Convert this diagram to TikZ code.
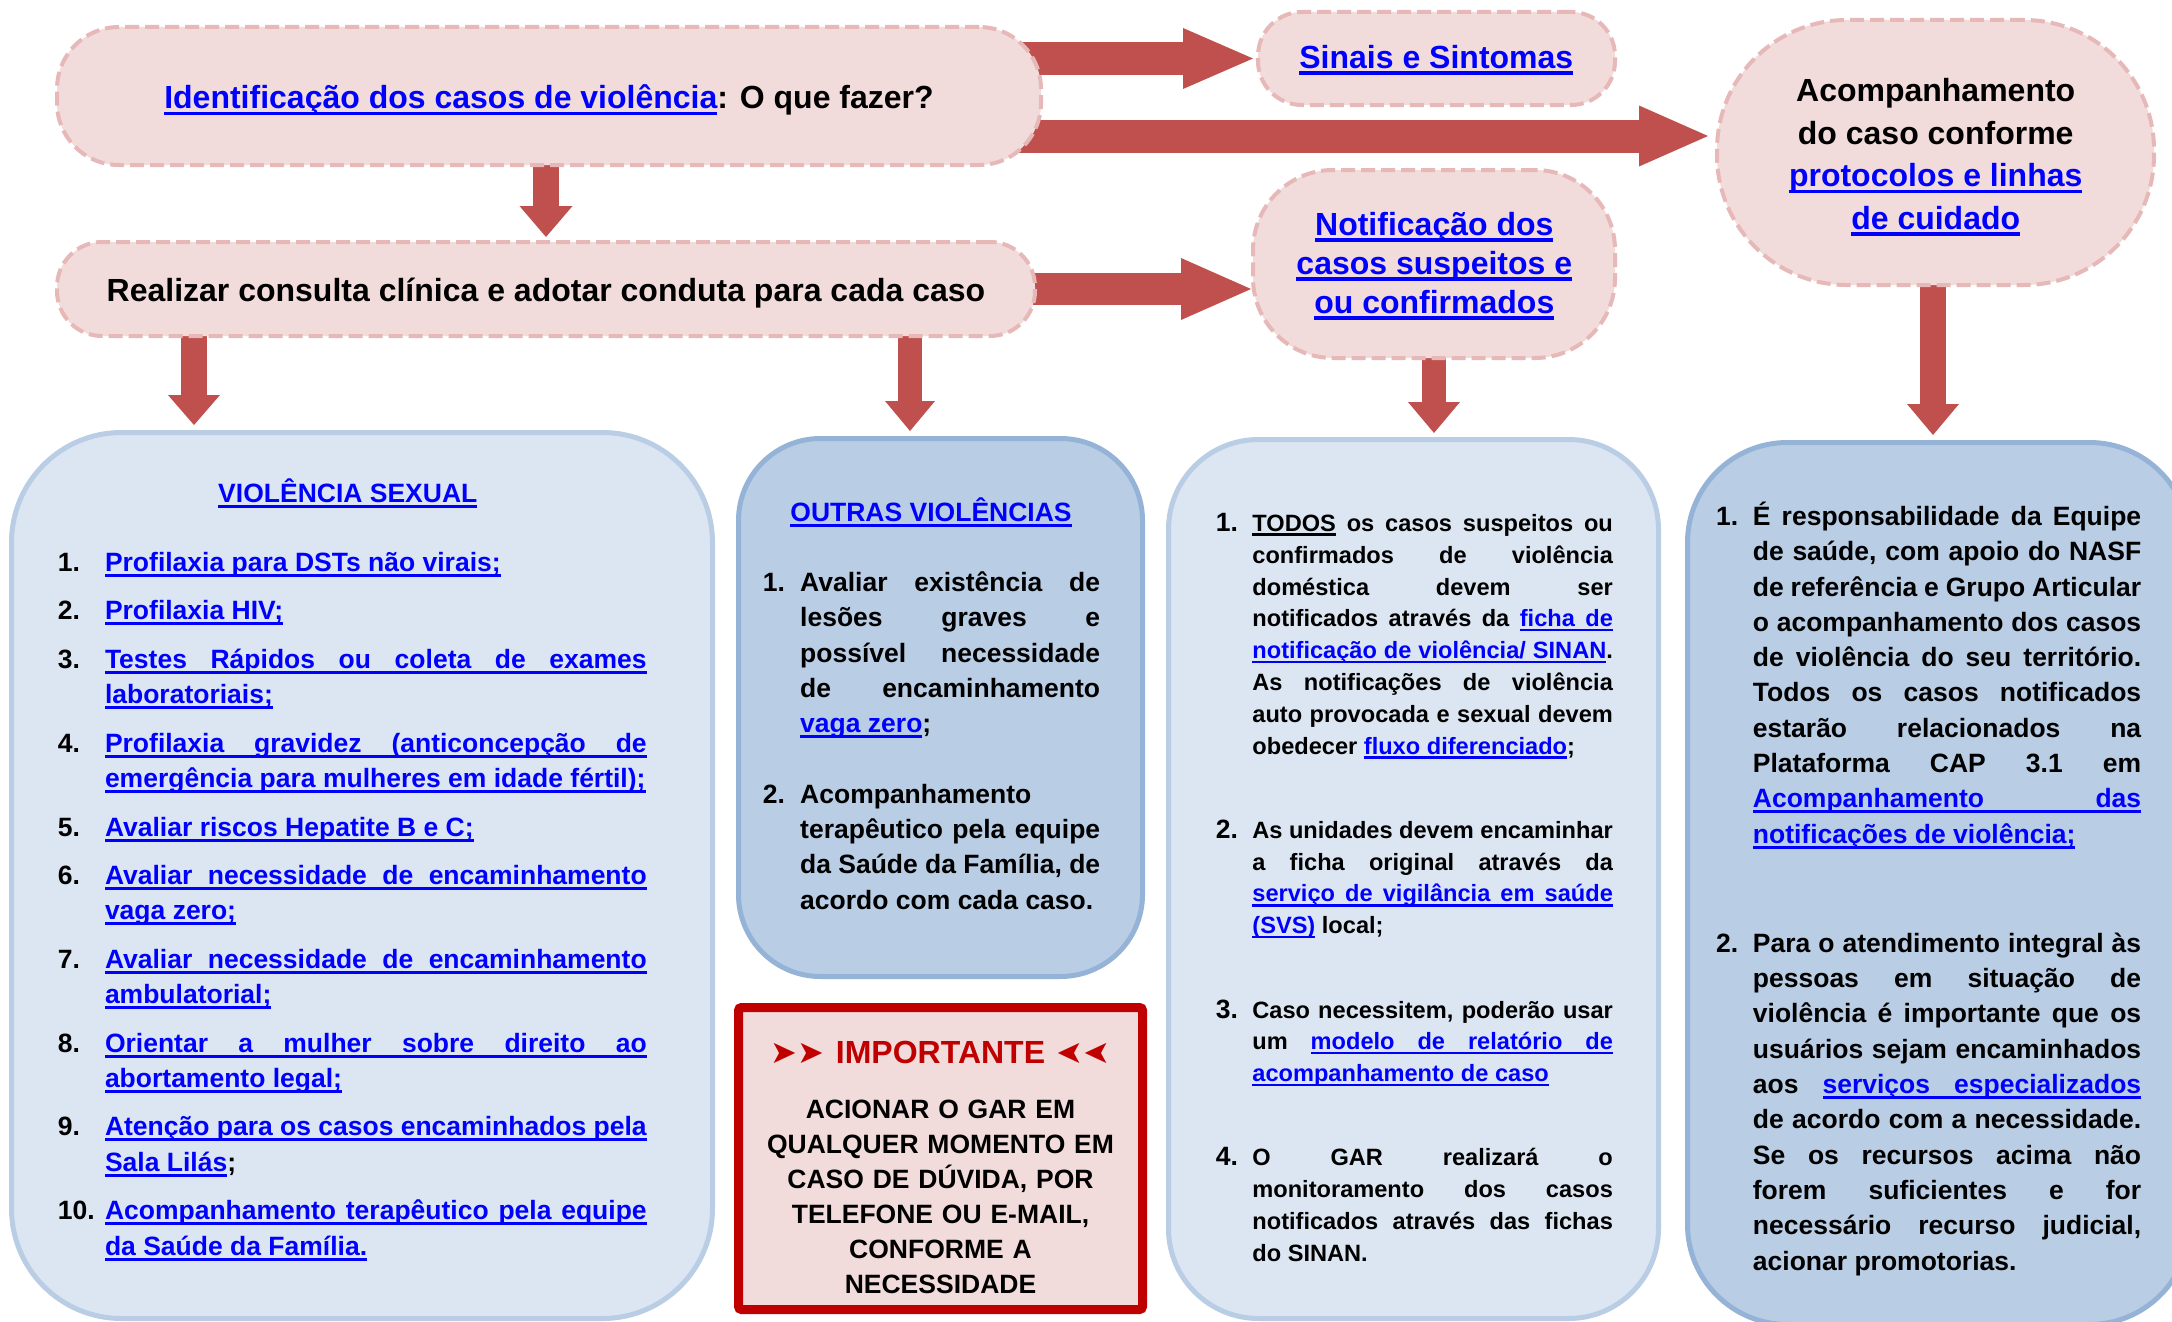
\documentclass[tikz,border=0pt]{standalone}
\usepackage{fontspec}
\setmainfont{Liberation Sans}
\newfontfamily\symfont{DejaVu Sans}
\usepackage{graphicx}
\usetikzlibrary{arrows.meta,calc}
\definecolor{pinkfill}{HTML}{F2DCDB}
\definecolor{pinkedge}{HTML}{E6B9B8}
\definecolor{arrowred}{HTML}{C0504D}
\definecolor{lightfill}{HTML}{DCE6F2}
\definecolor{lightedge}{HTML}{B9CDE5}
\definecolor{darkfill}{HTML}{B9CDE5}
\definecolor{darkedge}{HTML}{95B3D7}
\definecolor{impred}{HTML}{C00000}
\definecolor{linkblue}{HTML}{0000FF}
\pgfdeclarelayer{background}
\pgfsetlayers{background,main}
\newdimen\uldp \newdimen\ulth
\uldp=2.5pt \ulth=3pt
\newsavebox{\ulwordbox}
\def\ulbox#1{\leavevmode\sbox{\ulwordbox}{#1}\rlap{\vrule height -\uldp depth \dimexpr\uldp+\ulth\relax width \wd\ulwordbox}\usebox{\ulwordbox}}
\def\ulspace{\leaders\hrule height -\uldp depth \dimexpr\uldp+\ulth\relax\hskip\fontdimen2\font plus\fontdimen3\font minus\fontdimen4\font\relax}
\def\ulA#1 #2\ulend{\ulbox{#1}\ifx\relax#2\relax\else\ulspace\ulA#2\ulend\fi}
\newcommand{\ulin}[1]{\ulA#1 \ulend}
\newcommand{\lnk}[1]{{\color{linkblue}\ulin{#1}}}
\newcommand{\ulset}[2]{\uldp=#1\relax\ulth=#2\relax}
\newcommand{\itm}[3]{\hangindent=#1\hangafter=1\noindent\makebox[#1][l]{\rule{0pt}{26.5pt}#2}#3\par}
\newcommand{\parsetup}{\tolerance=10000 \hbadness=10000 \lineskiplimit=-100pt \parindent=0pt \parskip=0pt \emergencystretch=0pt\relax}
\newcommand{\bignum}[1]{{\fontsize{26.5}{31.8}\selectfont #1}}
\begin{document}
\begin{tikzpicture}[x=1pt,y=-1pt,
  pinkbox/.style={draw=pinkedge, fill=pinkfill, line width=4pt, dash pattern=on 14pt off 6pt, inner sep=0pt},
  lightbox/.style={draw=lightedge, fill=lightfill, line width=5pt, inner sep=0pt},
  darkbox/.style={draw=darkedge, fill=darkfill, line width=5pt, inner sep=0pt},
  impbox/.style={draw=impred, fill=pinkfill, line width=9pt, rounded corners=3pt, inner sep=0pt},
  toptext/.style={inner sep=0pt, font=\bfseries\fontsize{32}{39}\selectfont\ulset{3pt}{3.5pt}},
  listtext/.style={anchor=north west, inner sep=0pt, align=justify, font=\bfseries\fontsize{26.5}{35.3}\selectfont\ulset{2.5pt}{3pt}\parsetup},
  smalllist/.style={anchor=north west, inner sep=0pt, align=justify, font=\bfseries\fontsize{23.6}{31.8}\selectfont\ulset{2pt}{2.6pt}\parsetup},
  blk/.style={draw=arrowred, line width=#1}
]
\path[use as bounding box] (0,0) rectangle (2172,1322);
\begin{pgfonlayer}{background}
\fill[white] (0,0) rectangle (2172,1322);
\end{pgfonlayer}
\clip (0,0) rectangle (2172,1322);

% pink boxes
\node[pinkbox, rounded corners=62pt, minimum width=984pt, minimum height=138pt] (A) at (549,96) {};
\node[pinkbox, rounded corners=45pt, minimum width=978pt, minimum height=94pt] (B) at (546,289) {};
\node[pinkbox, rounded corners=44pt, minimum width=357pt, minimum height=93pt] (S) at (1436.5,58.5) {};
\node[pinkbox, rounded corners=80pt, minimum width=362pt, minimum height=188pt] (N) at (1434,264) {};
\node[pinkbox, rounded corners=130pt, minimum width=437pt, minimum height=265pt] (Ac) at (1935.5,152.5) {};

% blue boxes
\node[lightbox, rounded corners=110pt, minimum width=701pt, minimum height=886pt] (box1) at (362,875.5) {};
\node[darkbox, rounded corners=82pt, minimum width=404pt, minimum height=538pt] (box2) at (940.5,707.5) {};
\node[lightbox, rounded corners=90pt, minimum width=490pt, minimum height=879pt] (box3) at (1413.5,879) {};
\node[darkbox, rounded corners=100pt, minimum width=502pt, minimum height=882pt] (box4) at (1938.5,883.5) {};
\node[impbox, minimum width=404pt, minimum height=302pt] (imp) at (940.5,1158.5) {};

% top texts
\node[toptext, anchor=base] (tA) at (549,109) {\lnk{Identificação dos casos de violência}: O que fazer?};
\node[toptext, anchor=base] (tB) at (546,301.7) {Realizar consulta clínica e adotar conduta para cada caso};
\node[toptext, anchor=base] (tS) at (1436.3,68.3) {\lnk{Sinais e Sintomas}};
\node[toptext, anchor=north, align=center] (tN) at (1434.3,203) {\rule{0pt}{32pt}\lnk{Notificação dos}\\\lnk{casos suspeitos e}\\\lnk{ou confirmados}};
\node[toptext, anchor=north, align=center, font=\bfseries\fontsize{32}{42.5}\selectfont\ulset{3pt}{3.5pt}] (tAc) at (1935.7,69.7) {\rule{0pt}{32pt}Acompanhamento\\do caso conforme\\\lnk{protocolos e linhas}\\\lnk{de cuidado}};

% box 1
\node[toptext, anchor=base, font=\bfseries\fontsize{26.5}{35.3}\selectfont\ulset{2.5pt}{3pt}] (t1) at (347.8,502.2) {\lnk{VIOLÊNCIA SEXUAL}};
\node[listtext, text width=588.9pt] (L1) at (57.6,544.7) {%
\itm{47.2pt}{1.}{\lnk{Profilaxia para DSTs não virais;}}\vspace{13.2pt}
\itm{47.2pt}{2.}{\lnk{Profilaxia HIV;}}\vspace{13.2pt}
\itm{47.2pt}{3.}{\lnk{Testes Rápidos ou coleta de exames}\linebreak\lnk{laboratoriais;}}\vspace{13.2pt}
\itm{47.2pt}{4.}{\lnk{Profilaxia gravidez (anticoncepção de}\linebreak\lnk{emergência para mulheres em idade fértil);}}\vspace{13.2pt}
\itm{47.2pt}{5.}{\lnk{Avaliar riscos Hepatite B e C;}}\vspace{13.2pt}
\itm{47.2pt}{6.}{\lnk{Avaliar necessidade de encaminhamento}\linebreak\lnk{vaga zero;}}\vspace{13.2pt}
\itm{47.2pt}{7.}{\lnk{Avaliar necessidade de encaminhamento}\linebreak\lnk{ambulatorial;}}\vspace{13.2pt}
\itm{47.2pt}{8.}{\lnk{Orientar a mulher sobre direito ao}\linebreak\lnk{abortamento legal;}}\vspace{13.2pt}
\itm{47.2pt}{9.}{\lnk{Atenção para os casos encaminhados pela}\linebreak\lnk{Sala Lilás};}\vspace{13.2pt}
\itm{47.2pt}{10.}{\lnk{Acompanhamento terapêutico pela equipe}\linebreak\lnk{da Saúde da Família.}}};

% box 2
\node[toptext, anchor=base, font=\bfseries\fontsize{26.5}{35.3}\selectfont\ulset{2.5pt}{3pt}] (t2) at (931,521) {\lnk{OUTRAS VIOLÊNCIAS}};
\node[listtext, text width=337.3pt] (L2) at (762.7,564.7) {%
\itm{37.3pt}{1.}{Avaliar existência de\linebreak lesões graves e\linebreak possível necessidade\linebreak de encaminhamento\linebreak \lnk{vaga zero};}\vspace{35.3pt}
\itm{37.3pt}{2.}{Acompanhamento\linebreak terapêutico pela equipe\linebreak da Saúde da Família, de\linebreak acordo com cada caso.}};

% important
\node[anchor=base, inner sep=0pt, font=\bfseries\fontsize{32}{38}\selectfont, text=impred] (tImp) at (940.5,1063.5) {{\symfont\mdseries\fontsize{32}{36}\selectfont ➤➤}\hspace{12pt}IMPORTANTE\hspace{12pt}{\symfont\mdseries\fontsize{32}{36}\selectfont\reflectbox{➤➤}}};
\node[anchor=north, inner sep=0pt, text width=400pt, align=center, font=\bfseries\fontsize{26.5}{35}\selectfont] (tImpTxt) at (940.5,1091.5) {\rule{0pt}{26.5pt}ACIONAR O GAR EM\\QUALQUER MOMENTO EM\\CASO DE DÚVIDA, POR\\TELEFONE OU E-MAIL,\\CONFORME A\\NECESSIDADE};

% box 3
\node[smalllist, text width=397pt] (L3) at (1215.7,504.7) {%
\itm{36.5pt}{\bignum{1.}}{\ulin{TODOS} os casos suspeitos ou\linebreak confirmados de violência\linebreak doméstica devem ser\linebreak notificados através da \lnk{ficha de}\linebreak\lnk{notificação de violência/ SINAN}.\linebreak As notificações de violência\linebreak auto provocada e sexual devem\linebreak obedecer \lnk{fluxo diferenciado};}\vspace{52.5pt}
\itm{36.5pt}{\bignum{2.}}{As unidades devem encaminhar\linebreak a ficha original através da\linebreak \lnk{serviço de vigilância em saúde}\linebreak\lnk{(SVS)} local;}\vspace{52.5pt}
\itm{36.5pt}{\bignum{3.}}{Caso necessitem, poderão usar\linebreak um \lnk{modelo de relatório de}\linebreak\lnk{acompanhamento de caso}}\vspace{52.5pt}
\itm{36.5pt}{\bignum{4.}}{O GAR realizará o\linebreak monitoramento dos casos\linebreak notificados através das fichas\linebreak do SINAN.}};

% box 4
\node[listtext, text width=425pt] (L4) at (1716,498.7) {%
\itm{36.7pt}{1.}{É responsabilidade da Equipe\linebreak de saúde, com apoio do NASF\linebreak de referência e Grupo Articular\linebreak o acompanhamento dos casos\linebreak de violência do seu território.\linebreak Todos os casos notificados\linebreak estarão relacionados na\linebreak Plataforma CAP 3.1 em\linebreak \lnk{Acompanhamento das}\linebreak\lnk{notificações de violência;}}\vspace{73.9pt}
\itm{36.7pt}{2.}{Para o atendimento integral às\linebreak pessoas em situação de\linebreak violência é importante que os\linebreak usuários sejam encaminhados\linebreak aos \lnk{serviços especializados}\linebreak de acordo com a necessidade.\linebreak Se os recursos acima não\linebreak forem suficientes e for\linebreak necessário recurso judicial,\linebreak acionar promotorias.}};

% arrows
\begin{pgfonlayer}{background}
\draw[blk=33pt, -{Triangle[length=70pt,width=61pt,line width=0pt]}, shorten >=3pt] ($(A.east|-S.west)+(-40,0)$) -- (S.west);
\draw[blk=33pt, -{Triangle[length=69pt,width=61pt,line width=0pt]}, shorten >=7pt] ($(A.east)+(-50,40)$) -- ($(Ac.west)+(0,-16.5)$);
\draw[blk=32pt, -{Triangle[length=70pt,width=62pt,line width=0pt]}] ($(B.east)+(-40,0)$) -- (N.west|-B.east);
\draw[blk=26pt, -{Triangle[length=31pt,width=53pt,line width=0pt]}, shorten >=3pt] ($(B.north|-A.south)+(0,-5)$) -- (B.north);
\draw[blk=26pt, -{Triangle[length=30pt,width=52pt,line width=0pt]}, shorten >=5pt] ($(B.south west)+(139,-5)$) -- ($(box1.north west)+(185,0)$);
\draw[blk=24pt, -{Triangle[length=30pt,width=50pt,line width=0pt]}, shorten >=5pt] ($(B.south-|box2.north)+(-30.5,-5)$) -- ($(box2.north)+(-30.5,0)$);
\draw[blk=24pt, -{Triangle[length=31pt,width=52pt,line width=0pt]}, shorten >=4pt] ($(N.south)+(0,-5)$) -- (box3.north-|N.south);
\draw[blk=26pt, -{Triangle[length=31pt,width=52pt,line width=0pt]}, shorten >=5pt] ($(Ac.south)+(-2.5,-5)$) -- ($(box4.north-|Ac.south)+(-2.5,0)$);
\end{pgfonlayer}
\end{tikzpicture}
\end{document}
